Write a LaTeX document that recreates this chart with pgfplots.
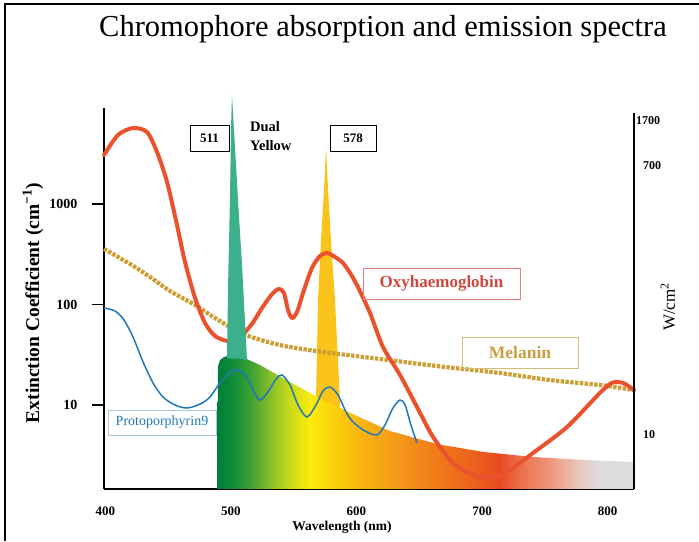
\documentclass[border=0pt]{standalone}
\usepackage{pgfplots}
\pgfplotsset{compat=1.18}
\usepackage{fontspec}
\setmainfont{Liberation Serif}
\definecolor{oxy}{RGB}{234,82,45}
\definecolor{mel}{RGB}{204,158,52}
\definecolor{proto}{RGB}{30,120,185}
\definecolor{tealpk}{RGB}{60,175,140}
\definecolor{yelpk}{RGB}{250,195,25}
\definecolor{sA}{RGB}{0,125,55}
\definecolor{sB}{RGB}{15,140,60}
\definecolor{sC}{RGB}{60,160,50}
\definecolor{sD}{RGB}{135,190,40}
\definecolor{sE}{RGB}{205,218,25}
\definecolor{sF}{RGB}{252,236,12}
\definecolor{sG}{RGB}{250,212,10}
\definecolor{sH}{RGB}{248,182,15}
\definecolor{sI}{RGB}{245,150,25}
\definecolor{sJ}{RGB}{240,120,25}
\definecolor{sK}{RGB}{235,92,30}
\definecolor{sL}{RGB}{232,75,35}
\definecolor{sM}{RGB}{236,110,75}
\definecolor{sN}{RGB}{238,150,125}
\definecolor{sO}{RGB}{232,200,190}
\definecolor{sP}{RGB}{220,220,220}
\pgfdeclarehorizontalshading{spectrum}{100bp}{color(0bp)=(sA); color(25bp)=(sA); color(26.8bp)=(sB); color(29bp)=(sC); color(31.4bp)=(sD); color(33.8bp)=(sE); color(36.2bp)=(sF); color(38.5bp)=(sG); color(42.1bp)=(sH); color(46.9bp)=(sI); color(51.7bp)=(sJ); color(56.5bp)=(sK); color(58.9bp)=(sL); color(61.3bp)=(sM); color(64.9bp)=(sN); color(68.5bp)=(sO); color(70.9bp)=(sP); color(75bp)=(sP); color(100bp)=(sP)}
\begin{document}
\begin{tikzpicture}[x=1pt,y=1pt]
\useasboundingbox (0,0) rectangle (699,541);
\draw[line width=1.2pt] (5,0) -- (5,537) -- (699,537);
\node[anchor=base,font=\fontsize{30.5}{32}\selectfont] at (383,504) {Chromophore absorption and emission spectra};
\begin{axis}[
  at={(104pt,52pt)}, anchor=south west,
  scale only axis, width=530pt, height=381pt,
  xmin=399, xmax=821,
  ymode=log, ymin=1.459, ymax=9019,
  log origin y=infty,
  clip=false,
  axis x line*=bottom, axis y line*=left,
  axis line style={line width=1.5pt,-},
  xtick={400,500,600,700,800},
  xticklabels={400,500,600,700,800},
  xtick style={draw=none},
  xticklabel style={font=\bfseries\fontsize{13}{13}\selectfont, yshift=-2pt},
  ytick={10,100,1000},
  yticklabels={10,100,1000},
  yminorticks=false,
  tick align=outside,
  major tick length=12pt,
  ytick style={line width=1.2pt,black},
  yticklabel style={font=\bfseries\fontsize{14}{14}\selectfont, xshift=-11pt},
]
% yellow 578 peak
\addplot[fill=yelpk, draw=none] coordinates {
 (567.8,1.459) (567.8,11.2) (569.4,111) (571.8,438) (574.2,1378) (575.8,3607)
 (577.4,1378) (579.7,438) (582.9,111) (586.9,11.2) (587.7,1.459)} -- cycle;
% spectrum area
\addplot[draw=none, shading=spectrum] coordinates {
 (489.0,1.459) (489.8,24.4) (491.4,28.0) (494.5,30.0) (499.3,31.4) (507.3,30.7)
 (523.2,25.0) (547.1,16.9) (573.4,11.2) (600.4,7.77) (626.7,5.51) (664.1,4.09)
 (700.8,3.41) (740.6,3.04) (780.4,2.84) (821.0,2.71)} \closedcycle;
% protoporphyrin
\addplot[proto, line width=1.5pt, smooth, tension=0.5] coordinates {
 (399.0,92.3) (407.8,86.2) (414.9,70.1) (422.1,47.5) (430.1,26.8) (438.0,16.6)
 (446.0,12.0) (455.5,10.0) (465.1,9.33) (475.4,10.2) (483.4,12.0) (491.4,16.6)
 (501.7,22.3) (507.3,21.8) (512.9,19.0) (518.4,13.5) (523.2,11.2) (529.6,13.5)
 (536.0,18.1) (540.7,19.9) (547.1,15.8) (553.5,10.0) (560.6,7.60) (567.8,10.0)
 (573.4,13.8) (578.9,15.1) (585.3,12.6) (591.7,8.52) (597.3,6.77) (606.8,5.51)
 (616.4,5.03) (622.7,6.32) (629.1,9.33) (634.7,11.2) (638.7,10.0) (643.4,6.32)
 (648.2,4.19)};
% melanin
\addplot[mel, line width=4.2pt, dash pattern=on 3.4pt off 1.4pt, smooth, tension=0.5] coordinates {
 (399,356.6) (411.7,290) (423.7,236) (435.6,188) (451.6,136) (471.5,98.9)
 (487.4,73.4) (509.7,50.9) (539.1,39.5) (573.4,33.7) (618.8,28.7) (664.1,24.4)
 (714.3,20.8) (754.1,17.7) (793.9,15.8) (821,14.1)};
% oxyhaemoglobin
\addplot[oxy, line width=4pt, smooth, tension=0.45, line join=round, line cap=round] coordinates {
 (399,3073) (410.1,4861) (422.1,5704) (433.2,5204) (441.2,3292) (449.2,1655)
 (457.1,618) (463.5,265) (471.5,116) (479.4,65.5) (487.4,48.6) (497.7,43.3)
 (507.3,47.5) (516.8,64) (524.8,92.3) (532.8,127) (538.3,143) (542.3,130)
 (545.5,88.2) (548.7,73.4) (552.7,84.2) (558.2,139) (564.6,231) (571.0,304)
 (576.6,325) (582.9,297) (589.3,259) (594.9,206) (600.4,156) (610.8,82.3)
 (621.1,37.8) (634.7,19.9) (648.2,9.55) (661.0,4.80) (676.9,2.65) (692.8,2.01)
 (706.3,1.92) (719.9,2.15) (740.6,3.33) (767.7,6.04) (793.9,13.2) (803.5,16.6)
 (812.2,16.6) (821.0,14.1)};
% teal 511 peak
\addplot[fill=tealpk, draw=none] coordinates {
 (496.9,29.4) (498.1,247) (499.3,1096) (500.1,5450) (500.9,12150) (502.5,5450)
 (505.7,1096) (508.9,247) (512.9,27.5) (507.3,29.0) (499.3,29.0)} -- cycle;
% right axis line
\draw[line width=1.5pt] (axis cs:821,1.459) -- (axis cs:821,8045);
\end{axis}
% right-hand labels
\node[anchor=west,font=\bfseries\fontsize{12}{12}\selectfont,inner sep=0pt] at (636,420) {1700};
\node[anchor=west,font=\bfseries\fontsize{12}{12}\selectfont,inner sep=0pt] at (643,375) {700};
\node[anchor=west,font=\bfseries\fontsize{12}{12}\selectfont,inner sep=0pt] at (643,106) {10};
\node[rotate=90,font=\fontsize{17}{17}\selectfont] at (668,234) {W/cm\textsuperscript{2}};
\node[rotate=90,font=\bfseries\fontsize{19.5}{20}\selectfont] at (33,238) {Extinction Coefficient (cm\textsuperscript{−1})};
\node[font=\bfseries\fontsize{13.5}{14}\selectfont] at (342,14) {Wavelength (nm)};
% annotation boxes
\node[draw=black, line width=0.8pt, minimum width=39pt, minimum height=26pt, inner sep=0pt, font=\bfseries\fontsize{13}{13}\selectfont] at (209.5,403) {511};
\node[draw=black, line width=0.8pt, minimum width=46pt, minimum height=26pt, inner sep=0pt, font=\bfseries\fontsize{13}{13}\selectfont] at (353,403) {578};
\node[anchor=west, align=left, inner sep=0pt, font=\bfseries\fontsize{14.5}{19}\selectfont] at (250,404.5) {Dual\\Yellow};
\node[draw={rgb,255:red,225;green,130;blue,120}, line width=0.8pt, minimum width=157pt, minimum height=31pt, inner sep=0pt, text={rgb,255:red,205;green,72;blue,62}, font=\bfseries\fontsize{17}{17}\selectfont] at (441.5,257.5) {Oxyhaemoglobin};
\node[draw={rgb,255:red,215;green,185;blue,120}, line width=0.8pt, minimum width=116pt, minimum height=31pt, inner sep=0pt, text={rgb,255:red,200;green,160;blue,65}, font=\bfseries\fontsize{17.5}{17.5}\selectfont] at (520,188.5) {Melanin};
\node[draw={rgb,255:red,170;green,200;blue,220}, line width=0.8pt, minimum width=108pt, minimum height=25pt, inner sep=0pt, text=proto, font=\fontsize{14}{14}\selectfont] at (162,118.5) {Protoporphyrin9};
\end{tikzpicture}
\end{document}
